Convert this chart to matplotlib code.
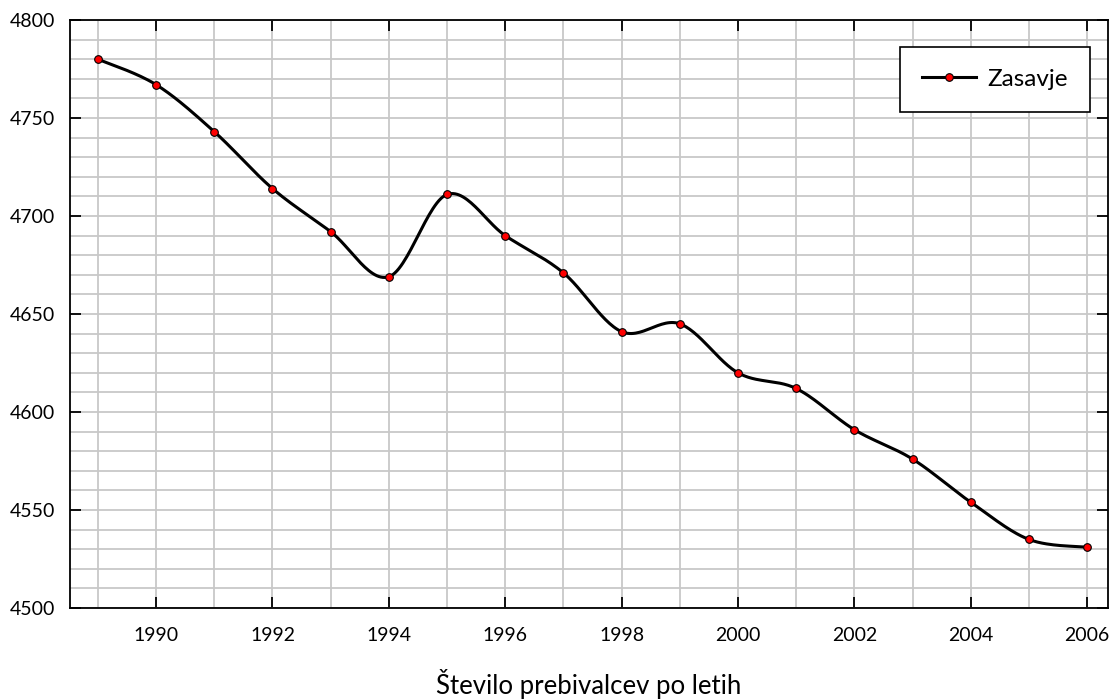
import numpy as np
import matplotlib.pyplot as plt
from matplotlib.ticker import MultipleLocator

plt.rcParams['font.family'] = ['Lato', 'DejaVu Sans']

# population by year
years = [1989, 1990, 1991, 1992, 1993, 1994, 1995, 1996, 1997, 1998,
         1999, 2000, 2001, 2002, 2003, 2004, 2005, 2006]
population = [4780, 4767, 4743, 4714, 4692, 4669, 4711, 4690, 4671, 4641,
              4645, 4620, 4612, 4591, 4576, 4554, 4535, 4531]
series_name = 'Zasavje'
title = 'Število prebivalcev po letih'


def smooth(x, y, n=30):
    # catmull-rom style smoothing like Excel's "smoothed line"
    x = np.asarray(x, float)
    y = np.asarray(y, float)
    px = np.concatenate([[x[0]], x, [x[-1]]])
    py = np.concatenate([[y[0]], y, [y[-1]]])
    xs, ys = [], []
    t = np.linspace(0, 1, n)
    for i in range(1, len(px) - 2):
        p0, p1, p2, p3 = [np.array([px[j], py[j]]) for j in (i - 1, i, i + 1, i + 2)]
        c1 = p1 + (p2 - p0) / 6
        c2 = p2 - (p3 - p1) / 6
        b = ((1 - t) ** 3)[:, None] * p1 + (3 * (1 - t) ** 2 * t)[:, None] * c1 \
            + (3 * (1 - t) * t ** 2)[:, None] * c2 + (t ** 3)[:, None] * p2
        xs.extend(b[:, 0])
        ys.extend(b[:, 1])
    return np.array(xs), np.array(ys)


fig = plt.figure(figsize=(11.15, 7), dpi=100)
ax = fig.add_axes([70 / 1115, 92 / 700, 1038 / 1115, 588 / 700])

sx, sy = smooth(years, population)
ax.plot(sx, sy, color='black', lw=2.2, zorder=3)
ax.plot(years, population, ls='none', marker='o', ms=5.5, mfc='red', mec='black', mew=0.8, zorder=4)
# legend proxy
ax.plot([], [], color='black', lw=2.2, marker='o', ms=5.5, mfc='red', mec='black', mew=0.8,
        label=series_name)

ax.set_xlim(1988.52, 2006.36)
ax.set_ylim(4500, 4800)

ax.xaxis.set_major_locator(MultipleLocator(2))
ax.xaxis.set_minor_locator(MultipleLocator(1))
ax.yaxis.set_major_locator(MultipleLocator(50))
ax.yaxis.set_minor_locator(MultipleLocator(10))
ax.grid(which='both', color='#c8c8c8', lw=1.3, zorder=0)
ax.set_axisbelow(True)

ax.tick_params(which='major', direction='in', length=8, width=1.3, labelsize=14,
               top=True, right=True, pad=14)
ax.tick_params(axis='y', which='major', pad=11)
ax.tick_params(which='minor', length=0)
for s in ax.spines.values():
    s.set_linewidth(1.3)

ax.set_xlabel(title, fontsize=18.5, labelpad=18)

leg = ax.legend(loc='upper right', bbox_to_anchor=(0.9827, 0.954), borderaxespad=0,
                fontsize=17.5, fancybox=False, edgecolor='black', framealpha=1,
                handlelength=2.2, borderpad=0.9, handletextpad=0.5)
leg.get_frame().set_linewidth(1.2)

fig.savefig('out.png', dpi=100)
